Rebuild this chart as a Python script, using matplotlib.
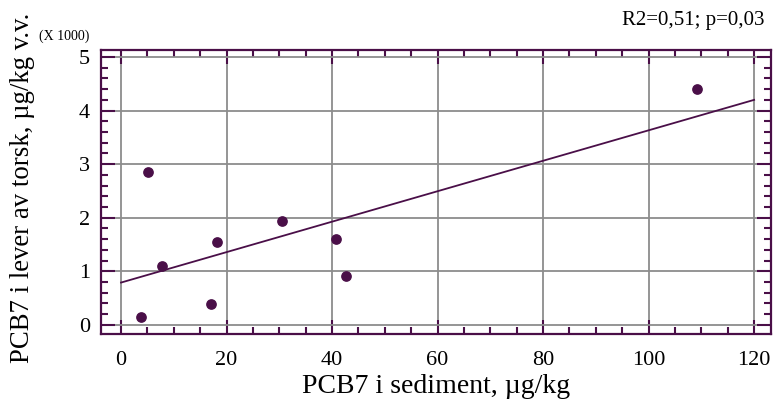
import numpy as np
import matplotlib
matplotlib.use('Agg')
import matplotlib.pyplot as plt
from matplotlib.ticker import MultipleLocator

# PCB7 in sediment (ug/kg) vs PCB7 in cod liver (x1000 ug/kg w.w.)
sediment = [3.8, 5.1, 7.8, 17.1, 18.2, 30.5, 40.8, 42.7, 109.2]
liver = [0.15, 2.85, 1.10, 0.39, 1.55, 1.93, 1.61, 0.91, 4.40]
fit_x = [0, 120]
fit_y = [0.79, 4.20]

purple = '#4a0f48'
plt.rcParams['font.family'] = ['Liberation Serif', 'DejaVu Serif']

fig = plt.figure(figsize=(7.74, 4.03), dpi=100)
ax = fig.add_axes([101/774, 1-334/403, 670/774, 284.5/403])

ax.grid(True, color='#8c8c8c', lw=1.3, zorder=0)
ax.plot(fit_x, fit_y, color=purple, lw=1.3, zorder=3)
ax.plot(sediment, liver, 'o', color=purple, ms=6.7, zorder=4)

ax.set_xlim(-3.8, 123.2)
ax.set_ylim(-0.17, 5.14)
ax.xaxis.set_major_locator(MultipleLocator(20))
ax.xaxis.set_minor_locator(MultipleLocator(5))
ax.yaxis.set_major_locator(MultipleLocator(1))
ax.yaxis.set_minor_locator(MultipleLocator(0.2))
ax.tick_params(which='both', direction='in', top=True, right=True, color=purple, width=1.5, labelsize=16)
ax.tick_params(axis='x', pad=12)
ax.tick_params(axis='y', pad=8)
ax.tick_params(which='major', length=10)
ax.tick_params(which='minor', length=5)
for s in ax.spines.values():
    s.set_color(purple)
    s.set_linewidth(1.6)

ax.set_xlabel('PCB7 i sediment, µg/kg', fontsize=20, labelpad=3)
fig.text(23/774, 1-188/403, 'PCB7 i lever av torsk, µg/kg v.v.', fontsize=19.3,
         rotation=90, ha='center', va='center')
fig.text(39/774, 1-36/403, '(X 1000)', fontsize=10, va='center')
fig.text(764/774, 1-20/403, 'R2=0,51; p=0,03', fontsize=15, ha='right', va='center')

fig.savefig('out.png', dpi=100)
